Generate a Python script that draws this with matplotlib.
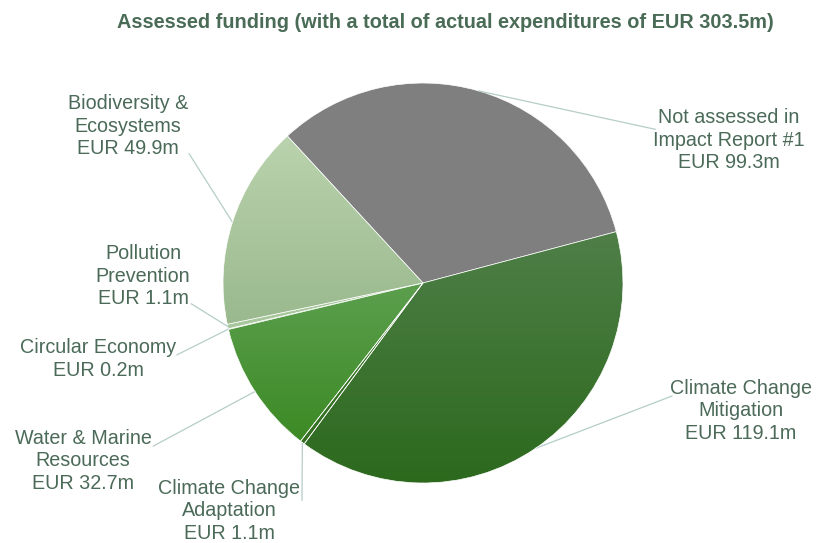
import numpy as np
import matplotlib.pyplot as plt
from matplotlib.colors import LinearSegmentedColormap

plt.rcParams['font.family'] = ['Liberation Sans', 'DejaVu Sans']

# data
categories = ["Not assessed in\nImpact Report #1", "Climate Change\nMitigation",
              "Climate Change\nAdaptation", "Water & Marine\nResources",
              "Circular Economy", "Pollution\nPrevention", "Biodiversity &\nEcosystems"]
values = [99.3, 119.1, 1.1, 32.7, 0.2, 1.1, 49.9]
title = "Assessed funding (with a total of actual expenditures of EUR 303.5m)"

# gradient colours (top, bottom) per slice
grads = [("#7f7f7f", "#7f7f7f"), ("#4f7f48", "#2c691d"), ("#3d7d2b", "#356f22"),
         ("#5c9f4e", "#3c8a25"), ("#a4c49a", "#a4c49a"), ("#a8c79d", "#a8c79d"),
         ("#bad3ae", "#9ab98e")]

# label text centres (pixels from top-left)
label_pos = [(729, 140), (741, 411), (229, 511), (83, 461), (98, 359), (143, 276),
             (128, 126)]

W, H = 818, 543
fig = plt.figure(figsize=(W / 100, H / 100), dpi=100)
ax = fig.add_axes([0, 0, 1, 1])
ax.set_aspect('equal')
ax.axis('off')

cx, cy, R = 423, H - 283, 200
start = 132.7

wedges, _ = ax.pie(values, startangle=start, counterclock=False, center=(cx, cy),
                   radius=R, colors=[g[0] for g in grads],
                   wedgeprops=dict(edgecolor='white', linewidth=0.5))
ax.set_xlim(0, W)
ax.set_ylim(0, H)

# vertical gradient inside each wedge
for w, (top, bot) in zip(wedges, grads):
    if top == bot:
        continue
    ext = w.get_path().get_extents()
    cmap = LinearSegmentedColormap.from_list('g', [bot, top])
    grad = np.linspace(0, 1, 256).reshape(-1, 1)
    im = ax.imshow(grad, cmap=cmap, origin='lower', aspect='auto',
                   extent=[ext.x0, ext.x1, ext.y0, ext.y1], zorder=w.get_zorder())
    im.set_clip_path(w)
    w.set_facecolor('none')
    w.set_zorder(w.get_zorder() + 0.5)
ax.set_xlim(0, W)
ax.set_ylim(0, H)

txt_col = '#4b6a58'
line_col = '#b5cdc8'
for w, cat, v, (lx, ly) in zip(wedges, categories, values, label_pos):
    mid = np.deg2rad((w.theta1 + w.theta2) / 2)
    px, py = cx + R * np.cos(mid), cy + R * np.sin(mid)
    txt = f"{cat}\nEUR {v}m"
    t = ax.text(lx, H - ly, txt, ha='center', va='center', fontsize=14.2,
                color=txt_col, linespacing=1.24)
    fig.canvas.draw()
    bb = t.get_window_extent().transformed(ax.transData.inverted())
    nlines = txt.count('\n') + 1
    lh = (bb.y1 - bb.y0) / nlines
    if cat.startswith("Not"):
        ex, ey = bb.x0 + 2, bb.y1 - lh * 1.0
    elif cat.startswith("Climate Change\nMit"):
        ex, ey = bb.x0 + 2, bb.y1 - lh * 0.8
    elif cat.startswith("Climate Change\nAd"):
        ex, ey = bb.x1 + 2, bb.y1 - lh * 1.0
    elif cat.startswith("Water"):
        ex, ey = bb.x1 + 2, bb.y1 - lh * 0.8
    elif cat.startswith("Circular"):
        ex, ey = bb.x1 + 1, bb.y1 - lh * 0.8
    else:
        ex, ey = bb.x1 + 1, bb.y0 + lh * 0.2
    ax.plot([px, ex], [py, ey], color=line_col, lw=0.9, zorder=1)

fig.text(445 / W, 1 - 22 / H, title, ha='center', va='center', fontsize=14.3,
         fontweight='bold', color='#4a6b56')

fig.savefig('out.png', dpi=100)
